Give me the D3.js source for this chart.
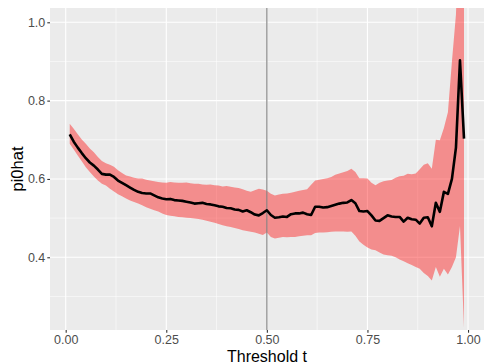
<!DOCTYPE html>
<html>
<head>
<script src="https://d3js.org/d3.v7.min.js"></script>
<style>
body { margin: 0; background: #fff; }
svg { display: block; font-family: 'Liberation Sans', Arial, sans-serif; }
</style>
</head>
<body>
<svg width="484" height="363"></svg>
<script>

// threshold values
var thresholds = [0.01,0.02,0.03,0.04,0.05,0.06,0.07,0.08,0.09,0.10,
  0.11,0.12,0.13,0.14,0.15,0.16,0.17,0.18,0.19,0.20,
  0.21,0.22,0.23,0.24,0.25,0.26,0.27,0.28,0.29,0.30,
  0.31,0.32,0.33,0.34,0.35,0.36,0.37,0.38,0.39,0.40,
  0.41,0.42,0.43,0.44,0.45,0.46,0.47,0.48,0.49,0.50,
  0.51,0.52,0.53,0.54,0.55,0.56,0.57,0.58,0.59,0.60,
  0.61,0.62,0.63,0.64,0.65,0.66,0.67,0.68,0.69,0.70,
  0.71,0.72,0.73,0.74,0.75,0.76,0.77,0.78,0.79,0.80,
  0.81,0.82,0.83,0.84,0.85,0.86,0.87,0.88,0.89,0.90,
  0.91,0.92,0.93,0.94,0.95,0.96,0.97,0.98,0.99];

// estimate
var pi0hat = [0.714,0.695,0.680,0.666,0.653,0.642,0.634,0.624,0.613,0.611,
  0.611,0.605,0.596,0.590,0.584,0.578,0.572,0.567,0.564,0.563,
  0.563,0.558,0.553,0.550,0.548,0.549,0.546,0.545,0.544,0.542,
  0.540,0.537,0.538,0.539,0.536,0.535,0.533,0.530,0.529,0.526,
  0.525,0.522,0.521,0.517,0.520,0.515,0.509,0.507,0.513,0.520,
  0.508,0.501,0.502,0.504,0.503,0.510,0.512,0.512,0.514,0.510,
  0.508,0.529,0.529,0.527,0.528,0.531,0.534,0.537,0.539,0.540,
  0.546,0.538,0.518,0.517,0.518,0.507,0.494,0.493,0.500,0.507,
  0.504,0.503,0.503,0.491,0.501,0.497,0.496,0.486,0.501,0.502,
  0.479,0.539,0.516,0.567,0.562,0.600,0.680,0.903,0.703];

// band limits
var upper = [0.741,0.728,0.714,0.701,0.690,0.678,0.668,0.656,0.646,0.640,
  0.636,0.631,0.622,0.615,0.609,0.606,0.603,0.601,0.601,0.598,
  0.596,0.594,0.592,0.591,0.590,0.592,0.591,0.590,0.590,0.591,
  0.589,0.588,0.588,0.586,0.585,0.586,0.584,0.583,0.581,0.582,
  0.580,0.578,0.577,0.574,0.570,0.567,0.571,0.575,0.573,0.570,
  0.562,0.558,0.560,0.562,0.563,0.565,0.567,0.570,0.572,0.574,
  0.585,0.596,0.598,0.600,0.602,0.605,0.611,0.614,0.617,0.620,
  0.626,0.618,0.602,0.602,0.601,0.590,0.584,0.590,0.594,0.596,
  0.597,0.603,0.607,0.608,0.613,0.612,0.614,0.625,0.636,0.640,
  0.626,0.700,0.699,0.730,0.770,0.900,1.020,1.300,1.250];

var lower = [0.690,0.675,0.660,0.645,0.630,0.618,0.606,0.596,0.588,0.583,
  0.575,0.568,0.561,0.556,0.550,0.545,0.541,0.537,0.533,0.528,
  0.524,0.520,0.517,0.512,0.508,0.506,0.505,0.503,0.502,0.501,
  0.500,0.499,0.498,0.496,0.493,0.491,0.488,0.485,0.482,0.479,
  0.477,0.475,0.472,0.469,0.467,0.465,0.463,0.460,0.457,0.463,
  0.452,0.448,0.450,0.452,0.451,0.452,0.452,0.454,0.455,0.456,
  0.456,0.462,0.463,0.463,0.464,0.465,0.466,0.466,0.466,0.465,
  0.466,0.455,0.440,0.432,0.425,0.420,0.418,0.412,0.407,0.405,
  0.404,0.400,0.394,0.390,0.385,0.380,0.375,0.371,0.360,0.352,
  0.341,0.375,0.350,0.371,0.356,0.375,0.400,0.480,0.220];

var xTicks = [0, 0.25, 0.5, 0.75, 1];
var xTickLabels = ["0.00", "0.25", "0.50", "0.75", "1.00"];
var xMinor = [0.125, 0.375, 0.625, 0.875];
var yTicks = [0.4, 0.6, 0.8, 1.0];
var yTickLabels = ["0.4", "0.6", "0.8", "1.0"];
var yMinor = [0.3, 0.5, 0.7, 0.9];
var cutoff = 0.5;

var svg = d3.select("svg");
var pl = 50, pr = 484, pt = 8, pb = 330;

var x = d3.scaleLinear().domain([-0.039, 1.0397]).range([pl, pr]);
var y = d3.scaleLinear().domain([0.2143, 1.0365]).range([pb, pt]);

svg.append("defs").append("clipPath").attr("id", "clip")
  .append("rect").attr("x", pl).attr("y", pt).attr("width", pr - pl).attr("height", pb - pt);

svg.append("rect").attr("x", pl).attr("y", pt).attr("width", pr - pl).attr("height", pb - pt)
  .attr("fill", "#ebebeb");

var grid = svg.append("g");
grid.selectAll("line.ymin").data(yMinor).enter().append("line")
  .attr("x1", pl).attr("x2", pr).attr("y1", y).attr("y2", y)
  .attr("stroke", "#fff").attr("stroke-width", 0.55);
grid.selectAll("line.xmin").data(xMinor).enter().append("line")
  .attr("y1", pt).attr("y2", pb).attr("x1", x).attr("x2", x)
  .attr("stroke", "#fff").attr("stroke-width", 0.55);
grid.selectAll("line.ymaj").data(yTicks).enter().append("line")
  .attr("x1", pl).attr("x2", pr).attr("y1", y).attr("y2", y)
  .attr("stroke", "#fff").attr("stroke-width", 1.1);
grid.selectAll("line.xmaj").data(xTicks).enter().append("line")
  .attr("y1", pt).attr("y2", pb).attr("x1", x).attr("x2", x)
  .attr("stroke", "#fff").attr("stroke-width", 1.1);

var rows = thresholds.map(function (t, i) {
  return { t: t, est: pi0hat[i], lo: lower[i], hi: upper[i] };
});

var plot = svg.append("g").attr("clip-path", "url(#clip)");

plot.append("path").datum(rows)
  .attr("fill", "red").attr("fill-opacity", 0.4)
  .attr("d", d3.area().x(function (d) { return x(d.t); })
    .y0(function (d) { return y(d.lo); })
    .y1(function (d) { return y(d.hi); }));

plot.append("line")
  .attr("x1", x(cutoff)).attr("x2", x(cutoff)).attr("y1", pt).attr("y2", pb)
  .attr("stroke", "#7f7f7f").attr("stroke-width", 1.1);

plot.append("path").datum(rows)
  .attr("fill", "none").attr("stroke", "#000").attr("stroke-width", 2.6)
  .attr("stroke-linejoin", "round")
  .attr("d", d3.line().x(function (d) { return x(d.t); }).y(function (d) { return y(d.est); }));

// axes
var xAxis = d3.axisBottom(x).tickValues(xTicks).tickSize(2.7).tickPadding(2)
  .tickFormat(function (d, i) { return xTickLabels[i]; });
var gx = svg.append("g").attr("transform", "translate(0," + pb + ")").call(xAxis);
gx.select(".domain").remove();
gx.selectAll("line").attr("stroke", "#333").attr("stroke-width", 1.1);
gx.selectAll("text").attr("fill", "#4d4d4d").attr("font-size", "12.5px")
  .attr("font-family", "'Liberation Sans', Arial, sans-serif");

var yAxis = d3.axisLeft(y).tickValues(yTicks).tickSize(2.7).tickPadding(2)
  .tickFormat(function (d, i) { return yTickLabels[i]; });
var gy = svg.append("g").attr("transform", "translate(" + pl + ",0)").call(yAxis);
gy.select(".domain").remove();
gy.selectAll("line").attr("stroke", "#333").attr("stroke-width", 1.1);
gy.selectAll("text").attr("fill", "#4d4d4d").attr("font-size", "12.5px")
  .attr("font-family", "'Liberation Sans', Arial, sans-serif");

svg.append("text").attr("x", (pl + pr) / 2).attr("y", 361.5)
  .attr("text-anchor", "middle").attr("font-size", "16px").attr("fill", "#000")
  .text("Threshold t");

svg.append("text").attr("transform", "translate(23," + (pt + pb) / 2 + ") rotate(-90)")
  .attr("text-anchor", "middle").attr("font-size", "16.5px").attr("fill", "#000")
  .text("pi0hat");

</script>
</body>
</html>
